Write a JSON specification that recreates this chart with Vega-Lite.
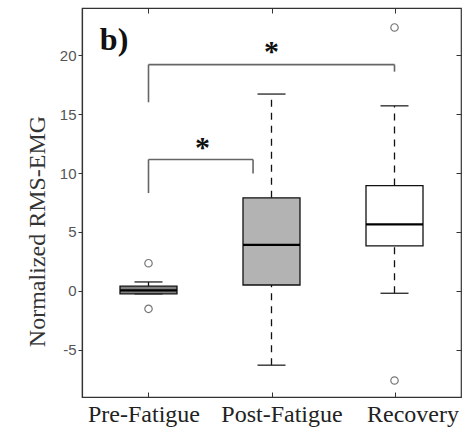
{
  "$schema": "https://vega.github.io/schema/vega-lite/v6.json",
  "width": 379,
  "height": 389,
  "autosize": "none",
  "padding": {"left": 82, "top": 8, "right": 6, "bottom": 42},
  "background": "white",
  "config": {
    "view": {"stroke": "#333333", "strokeWidth": 1.2},
    "axisX": {"labelFont": "Liberation Serif", "labelFontSize": 24, "labelColor": "#222222"},
    "axisY": {"labelFont": "Liberation Sans", "labelFontSize": 15, "labelColor": "#555555", "titleFont": "Liberation Serif"}
  },
  "datasets": {
    "boxes": [
      {"group": "Pre-Fatigue", "pos": 1, "lower": -0.25, "q1": -0.25, "median": 0.05, "q3": 0.4, "upper": 0.76},
      {"group": "Post-Fatigue", "pos": 2, "lower": -6.3, "q1": 0.5, "median": 3.9, "q3": 7.9, "upper": 16.7},
      {"group": "Recovery", "pos": 3, "lower": -0.2, "q1": 3.82, "median": 5.65, "q3": 8.94, "upper": 15.7}
    ],
    "outliers": [
      {"group": "Pre-Fatigue", "pos": 1, "value": 2.35},
      {"group": "Pre-Fatigue", "pos": 1, "value": -1.52},
      {"group": "Recovery", "pos": 3, "value": 22.35},
      {"group": "Recovery", "pos": 3, "value": -7.6}
    ],
    "brackets": [
      {"x": 1, "x2": 1, "y": 8.3, "y2": 11.15},
      {"x": 1, "x2": 1.85, "y": 11.15, "y2": 11.15},
      {"x": 1.85, "x2": 1.85, "y": 11.15, "y2": 9.95},
      {"x": 1, "x2": 1, "y": 16.0, "y2": 19.2},
      {"x": 1, "x2": 3, "y": 19.2, "y2": 19.2},
      {"x": 3, "x2": 3, "y": 19.2, "y2": 18.6}
    ],
    "stars": [
      {"x": 1.44, "y": 12.4, "label": "*"},
      {"x": 2.0, "y": 20.5, "label": "*"}
    ],
    "panel": [
      {"x": 0.72, "y": 21.3, "label": "b)"}
    ]
  },
  "resolve": {"axis": {"x": "independent", "y": "independent"}},
  "layer": [
    {
      "data": {"name": "boxes"},
      "mark": {"type": "rule", "strokeDash": [7, 6], "color": "#111111", "strokeWidth": 1.3},
      "encoding": {
        "x": {
          "field": "pos", "type": "quantitative",
          "scale": {"domain": [0.5, 3.5], "nice": false, "zero": false},
          "axis": {
            "orient": "bottom", "values": [1, 2, 3], "title": null, "grid": false,
            "labelExpr": "datum.value == 1 ? 'Pre-Fatigue' : datum.value == 2 ? 'Post-Fatigue' : 'Recovery'",
            "labelFont": "Liberation Serif", "labelFontSize": 24, "labelColor": "#222222",
            "labelOffset": {"expr": "datum.value == 1 ? -5 : datum.value == 2 ? 10 : 18"},
            "labelPadding": 10, "tickSize": -5, "tickColor": "#333333", "domainColor": "#333333", "domainWidth": 1.2
          }
        },
        "y": {
          "field": "q3", "type": "quantitative",
          "scale": {"domain": [-9, 24], "nice": false, "zero": false},
          "axis": {
            "orient": "left", "values": [-5, 0, 5, 10, 15, 20], "grid": false,
            "labelExpr": "'' + datum.value",
            "title": "Normalized RMS-EMG", "titleFont": "Liberation Serif", "titleFontSize": 24,
            "titleFontWeight": "normal", "titleColor": "#333333", "titlePadding": 10,
            "titleY": 223,
            "labelFont": "Liberation Sans", "labelFontSize": 15, "labelColor": "#555555",
            "tickSize": 4, "tickColor": "#333333", "domainColor": "#333333", "domainWidth": 1.2
          }
        },
        "y2": {"field": "upper"}
      }
    },
    {
      "data": {"name": "boxes"},
      "mark": {"type": "rule", "strokeDash": [7, 6], "color": "#111111", "strokeWidth": 1.3},
      "encoding": {
        "x": {"field": "pos", "type": "quantitative", "axis": null},
        "y": {"field": "lower", "type": "quantitative", "axis": null},
        "y2": {"field": "q1"}
      }
    },
    {
      "data": {"name": "boxes"},
      "mark": {"type": "tick", "orient": "horizontal", "size": 28, "thickness": 1.3, "color": "#222222", "opacity": 1},
      "encoding": {
        "x": {"field": "pos", "type": "quantitative", "axis": null},
        "y": {"field": "upper", "type": "quantitative", "axis": null}
      }
    },
    {
      "data": {"name": "boxes"},
      "mark": {"type": "tick", "orient": "horizontal", "size": 28, "thickness": 1.3, "color": "#222222", "opacity": 1},
      "encoding": {
        "x": {"field": "pos", "type": "quantitative", "axis": null},
        "y": {"field": "lower", "type": "quantitative", "axis": null}
      }
    },
    {
      "data": {"name": "boxes"},
      "mark": {"type": "bar", "orient": "vertical", "size": 57, "stroke": "#111111", "strokeWidth": 1.3},
      "encoding": {
        "x": {"field": "pos", "type": "quantitative", "axis": null},
        "y": {"field": "q1", "type": "quantitative", "axis": null},
        "y2": {"field": "q3"},
        "fill": {
          "field": "group", "type": "nominal", "legend": null,
          "scale": {"domain": ["Pre-Fatigue", "Post-Fatigue", "Recovery"], "range": ["#808080", "#b3b3b3", "#ffffff"]}
        }
      }
    },
    {
      "data": {"name": "boxes"},
      "mark": {"type": "tick", "orient": "horizontal", "size": 57, "thickness": 2.2, "color": "#000000", "opacity": 1},
      "encoding": {
        "x": {"field": "pos", "type": "quantitative", "axis": null},
        "y": {"field": "median", "type": "quantitative", "axis": null}
      }
    },
    {
      "data": {"name": "outliers"},
      "mark": {"type": "point", "shape": "circle", "filled": false, "size": 55, "stroke": "#777777", "strokeWidth": 1.2, "opacity": 1},
      "encoding": {
        "x": {
          "field": "pos", "type": "quantitative",
          "axis": {"orient": "top", "values": [1, 2, 3], "labels": false, "title": null, "grid": false, "tickSize": -5, "tickColor": "#333333", "domain": false}
        },
        "y": {
          "field": "value", "type": "quantitative",
          "axis": {"orient": "right", "values": [-5, 0, 5, 10, 15, 20], "labels": false, "title": null, "grid": false, "tickSize": -5, "tickColor": "#333333", "domain": false}
        }
      }
    },
    {
      "data": {"name": "brackets"},
      "mark": {"type": "rule", "color": "#666666", "strokeWidth": 1.6},
      "encoding": {
        "x": {"field": "x", "type": "quantitative", "axis": null},
        "x2": {"field": "x2"},
        "y": {"field": "y", "type": "quantitative", "axis": null},
        "y2": {"field": "y2"}
      }
    },
    {
      "data": {"name": "stars"},
      "mark": {"type": "text", "font": "Liberation Serif", "fontSize": 30, "fontWeight": "bold", "color": "#111111", "align": "center", "baseline": "middle", "dy": 3},
      "encoding": {
        "x": {"field": "x", "type": "quantitative", "axis": null},
        "y": {"field": "y", "type": "quantitative", "axis": null},
        "text": {"field": "label"}
      }
    },
    {
      "data": {"name": "panel"},
      "mark": {"type": "text", "font": "Liberation Serif", "fontSize": 32, "fontWeight": "bold", "color": "#111111", "align": "center", "baseline": "middle"},
      "encoding": {
        "x": {"field": "x", "type": "quantitative", "axis": null},
        "y": {"field": "y", "type": "quantitative", "axis": null},
        "text": {"field": "label"}
      }
    }
  ]
}
